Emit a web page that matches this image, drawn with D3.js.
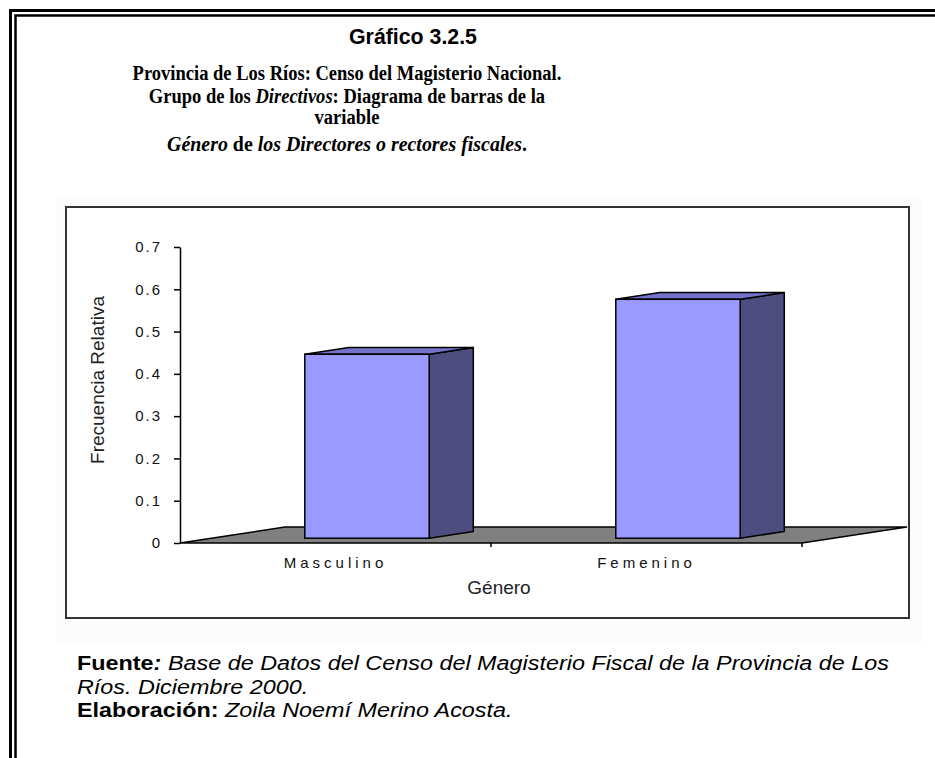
<!DOCTYPE html>
<html>
<head>
<meta charset="utf-8">
<script src="https://cdn.jsdelivr.net/npm/d3@7"></script>
<style>
  body { margin: 0; background: #fff; }
  svg text { font-family: Arial, "Liberation Sans", sans-serif; }
  .serif { font-family: "Times New Roman", "Liberation Serif", serif !important; }
</style>
</head>
<body>
<div id="canvas"></div>
<script>
var W = 935, H = 758;

// data
var categories = ['Masculino', 'Femenino'];
var values = [0.435, 0.565];
var yTicks = [0, 0.1, 0.2, 0.3, 0.4, 0.5, 0.6, 0.7];

var svg = d3.select('#canvas').append('svg')
    .attr('width', W)
    .attr('height', H);

svg.append('rect').attr('width', W).attr('height', H).attr('fill', '#fff');

// outer double frame (open to the right and bottom)
svg.append('path').attr('d', 'M10.5,' + H + 'V10.5H' + W)
    .attr('fill', 'none').attr('stroke', '#000').attr('stroke-width', 3);
svg.append('path').attr('d', 'M15.5,' + H + 'V15.5H' + W)
    .attr('fill', 'none').attr('stroke', '#000').attr('stroke-width', 2.5);

// squeeze/stretch a text horizontally around x0
function hscale(t, x0, s) {
  t.attr('transform', 'translate(' + x0 + ',0) scale(' + s + ',1) translate(' + (-x0) + ',0)');
}
function fit(t, x0, width) {
  var s = width / t.node().getComputedTextLength();
  hscale(t, x0, s);
  return s;
}

// titles
var t0 = svg.append('text').attr('x', 413).attr('y', 44).attr('text-anchor', 'middle')
    .attr('font-size', 22).attr('font-weight', 'bold').text('Gráfico 3.2.5');
fit(t0, 413, 128);

var titleLines = [
  {y: 80, w: 429, parts: [['Provincia de Los Ríos: Censo del Magisterio Nacional.', 'normal']]},
  {y: 103, w: null, parts: [['Grupo de los ', 'normal'], ['Directivos', 'italic'], [': Diagrama de barras de la', 'normal']]},
  {y: 124, w: null, parts: [['variable', 'normal']]},
  {y: 151, w: 360, parts: [['Género', 'italic'], [' de ', 'normal'], ['los Directores o rectores fiscales', 'italic'], ['.', 'normal']]}
];
var titleScale = null;
titleLines.forEach(function(l) {
  var t = svg.append('text').attr('class', 'serif').attr('x', 347).attr('y', l.y)
      .attr('text-anchor', 'middle')
      .attr('font-size', 21).attr('font-weight', 'bold').attr('xml:space', 'preserve');
  l.parts.forEach(function(p) {
    t.append('tspan').attr('font-style', p[1]).text(p[0]);
  });
  if (l.w !== null) {
    var s = fit(t, 347, l.w);
    if (titleScale === null) titleScale = s;
  } else {
    hscale(t, 347, titleScale);
  }
});

// chart area
svg.append('rect').attr('x', 56).attr('y', 197).attr('width', 866).attr('height', 448).attr('fill', '#fcfcfc');
svg.append('rect').attr('x', 66).attr('y', 207).attr('width', 843).attr('height', 411)
    .attr('fill', '#fff').attr('stroke', '#333').attr('stroke-width', 2);

var scaleX = d3.scaleBand().domain(categories).range([180, 802]);
var scaleY = d3.scaleLinear().domain([0, 0.7]).range([543, 247]);
var depth = {dx: 105, dy: -16}, f0 = 0.3, f1 = 0.72;

// floor
var x0 = scaleX.range()[0], x1 = scaleX.range()[1], y0 = scaleY(0);
svg.append('polygon')
    .attr('points', [[x0, y0], [x1, y0], [x1 + depth.dx, y0 + depth.dy], [x0 + depth.dx, y0 + depth.dy]].join(' '))
    .attr('fill', '#808080').attr('stroke', '#000').attr('stroke-width', 1.5);

// y axis
var axisY = d3.axisLeft(scaleY)
    .tickValues(yTicks)
    .tickSize(6).tickSizeOuter(0).tickPadding(12)
    .tickFormat(function(d) { return d === 0 ? '0' : d3.format('.1f')(d); });
var gy = svg.append('g').attr('transform', 'translate(' + x0 + ',0)').call(axisY);
gy.selectAll('path, line').attr('stroke', '#000').attr('stroke-width', 1.5);
gy.selectAll('text').attr('font-size', 15).attr('fill', '#111').attr('letter-spacing', '2px')
    .attr('font-family', 'Arial, "Liberation Sans", sans-serif');

// x ticks at band boundaries
var bounds = categories.map(function(c) { return scaleX(c); }).concat([x1]);
svg.selectAll('.xtick').data(bounds.slice(1)).enter().append('line')
    .attr('class', 'xtick')
    .attr('x1', function(d) { return d; }).attr('x2', function(d) { return d; })
    .attr('y1', y0).attr('y2', y0 + 4)
    .attr('stroke', '#000').attr('stroke-width', 1.5);

// bars
var bw = scaleX.bandwidth(), barW = bw * 0.4;
var sdx = (f1 - f0) * depth.dx, sdy = (f1 - f0) * depth.dy;
var bars = categories.map(function(c, i) {
  var bx = scaleX(c) + (bw - barW) / 2 + f0 * depth.dx;
  return {x: bx, yb: scaleY(0) + f0 * depth.dy, yt: scaleY(values[i]) + f0 * depth.dy};
});

var g = svg.selectAll('.bar').data(bars).enter().append('g').attr('class', 'bar');
g.append('polygon')
    .attr('points', function(d) {
      return [[d.x + barW, d.yb], [d.x + barW + sdx, d.yb + sdy], [d.x + barW + sdx, d.yt + sdy], [d.x + barW, d.yt]].join(' ');
    })
    .attr('fill', '#4d4d80').attr('stroke', '#000').attr('stroke-width', 1.5).attr('stroke-linejoin', 'round');
g.append('polygon')
    .attr('points', function(d) {
      return [[d.x, d.yt], [d.x + sdx, d.yt + sdy], [d.x + barW + sdx, d.yt + sdy], [d.x + barW, d.yt]].join(' ');
    })
    .attr('fill', '#7373cc').attr('stroke', '#000').attr('stroke-width', 1.5).attr('stroke-linejoin', 'round');
g.append('rect')
    .attr('x', function(d) { return d.x; })
    .attr('y', function(d) { return d.yt; })
    .attr('width', barW)
    .attr('height', function(d) { return d.yb - d.yt; })
    .attr('fill', '#9999ff').attr('stroke', '#000').attr('stroke-width', 1.5);

// category labels
svg.selectAll('.cat').data(categories).enter().append('text')
    .attr('class', 'cat')
    .attr('x', function(d) { return scaleX(d) + bw / 2; })
    .attr('y', 568)
    .attr('text-anchor', 'middle')
    .attr('font-size', 15).attr('letter-spacing', '4px').attr('fill', '#111')
    .text(function(d) { return d; });

// axis titles
svg.append('text').attr('x', 499).attr('y', 594).attr('text-anchor', 'middle')
    .attr('font-size', 19).attr('fill', '#222').text('Género');
svg.append('text').attr('transform', 'translate(104,380) rotate(-90)').attr('text-anchor', 'middle')
    .attr('font-size', 19).attr('fill', '#222').text('Frecuencia Relativa');

// footer, one common horizontal scale taken from the first line
var footLines = [
  {y: 670, parts: [['Fuente', 'bold', 'normal'], [':', 'bold', 'italic'], [' Base de Datos del Censo del Magisterio Fiscal de la Provincia de Los', 'normal', 'italic']]},
  {y: 694, parts: [['Ríos. Diciembre 2000.', 'normal', 'italic']]},
  {y: 717, parts: [['Elaboración:', 'bold', 'normal'], [' Zoila Noemí Merino Acosta.', 'normal', 'italic']]}
];
var footScale = null;
footLines.forEach(function(l) {
  var t = svg.append('text').attr('x', 77).attr('y', l.y)
      .attr('font-size', 20).attr('fill', '#000').attr('xml:space', 'preserve');
  l.parts.forEach(function(p) {
    t.append('tspan').attr('font-weight', p[1]).attr('font-style', p[2]).text(p[0]);
  });
  if (footScale === null) footScale = fit(t, 77, 812);
  else hscale(t, 77, footScale);
});
</script>
</body>
</html>
